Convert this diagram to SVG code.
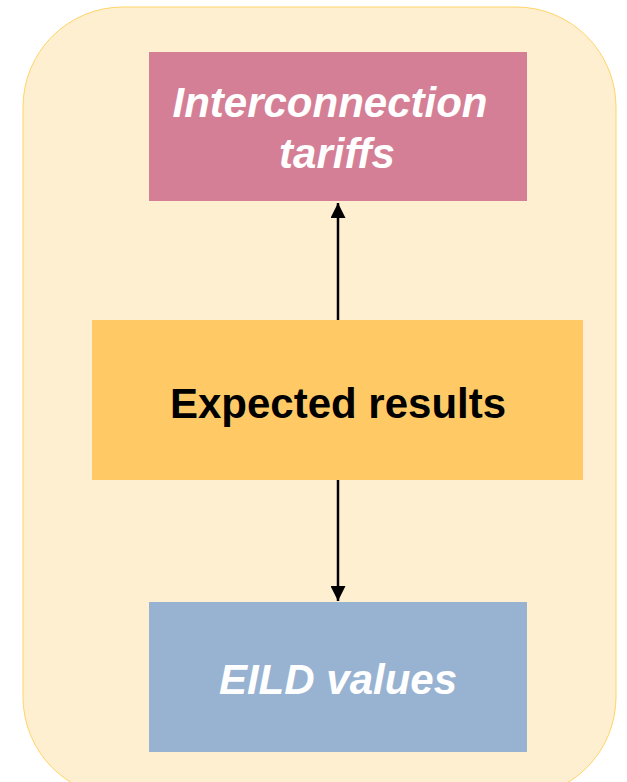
<svg xmlns="http://www.w3.org/2000/svg" width="627" height="782" viewBox="0 0 627 782">
  <defs>
    <style>
      .lbl { font-family: "Liberation Sans", Arial, sans-serif; font-size: 42px; font-weight: bold; text-anchor: middle; }
      .white { fill: #ffffff; font-style: italic; }
      .dark { fill: #000000; }
      .conn { stroke: #000000; stroke-width: 2.5; fill: none; marker-end: url(#arrow); }
    </style>
    <marker id="arrow" viewBox="0 0 10 10" refX="10" refY="5" markerWidth="6" markerHeight="6" markerUnits="strokeWidth" orient="auto">
      <path d="M0,0 L10,5 L0,10 z" fill="#000000"/>
    </marker>
  </defs>

  <rect width="627" height="782" fill="#ffffff"/>

  <!-- outer container -->
  <g id="container">
    <rect x="23" y="7" width="593" height="790" rx="100" ry="100" fill="#FFEFD1" stroke="#FFD466" stroke-width="1"/>
  </g>

  <g id="interconnection-tariffs">
    <rect x="149" y="52" width="378" height="149" fill="#D57F96"/>
    <text class="lbl white" x="330" y="117">Interconnection</text>
    <text class="lbl white" x="337" y="168">tariffs</text>
  </g>

  <g id="expected-results">
    <rect x="92" y="320" width="491" height="160" fill="#FFCA66"/>
    <text class="lbl dark" x="338" y="418">Expected results</text>
  </g>

  <g id="eild-values">
    <rect x="149" y="602" width="378" height="150" fill="#98B3D2"/>
    <text class="lbl white" x="338" y="694">EILD values</text>
  </g>

  <g id="connectors">
    <line class="conn" x1="338" y1="320" x2="338" y2="203"/>
    <line class="conn" x1="338" y1="480" x2="338" y2="601"/>
  </g>
</svg>
